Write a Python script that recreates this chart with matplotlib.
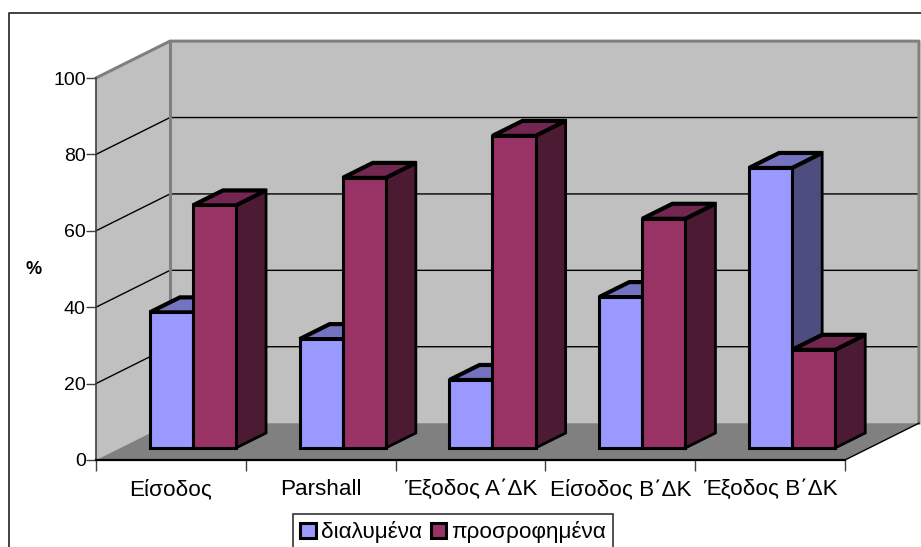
import matplotlib.pyplot as plt
import numpy as np
from matplotlib.lines import Line2D
from matplotlib.patches import Patch, Polygon

plt.rcParams['font.family'] = ['Liberation Sans', 'DejaVu Sans']

categories = ['Είσοδος', 'Parshall', 'Έξοδος Α΄ΔΚ', 'Είσοδος Β΄ΔΚ', 'Έξοδος Β΄ΔΚ']
dialymena = [35.5, 28.5, 17.8, 39.5, 73.3]
prosrofimena = [63.5, 70.7, 81.7, 60, 25.7]
series_names = ['διαλυμένα', 'προσροφημένα']
y_ticks = [0, 20, 40, 60, 80, 100]

# face colours: front, side, top
blue = ('#9999FF', '#4D4D80', '#7373BF')
maroon = ('#993366', '#4D1A33', '#732650')

# oblique projection of the depth axis, in data units
DX = 0.494
DY = 9.65
Z0, Z1 = 0.326, 0.733
BAR_W = 0.2875


def proj(x, y, z):
    return (x + z * DX, y + z * DY)


def face(ax, pts, color, zorder, lw=0, ec='black', joinstyle='miter'):
    ax.add_patch(Polygon(pts, closed=True, facecolor=color, edgecolor=ec if lw else 'none',
                         linewidth=lw, clip_on=False, zorder=zorder, joinstyle=joinstyle))


def bar3d(ax, x0, h, colors, zorder):
    x1 = x0 + BAR_W
    side = [proj(x1, 0, Z0), proj(x1, 0, Z1), proj(x1, h, Z1), proj(x1, h, Z0)]
    top = [proj(x0, h, Z0), proj(x1, h, Z0), proj(x1, h, Z1), proj(x0, h, Z1)]
    front = [proj(x0, 0, Z0), proj(x1, 0, Z0), proj(x1, h, Z0), proj(x0, h, Z0)]
    face(ax, side, colors[1], zorder, lw=2)
    face(ax, top, colors[2], zorder + 0.1, lw=3)
    face(ax, front, colors[0], zorder + 0.2, lw=2.2)


fig = plt.figure(figsize=(9.21, 5.47), dpi=100)
ax = fig.add_axes([96 / 921, 87 / 547, 749 / 921, 382 / 547])
ax.set_facecolor('none')
ax.set_xlim(0, 5)
ax.set_ylim(0, 100)

# chart area border, running off the canvas on the right and at the bottom
fig.add_artist(Line2D([1.01, 9 / 921, 9 / 921], [534 / 547, 534 / 547, -0.01],
                      color='#333333', lw=1.3))

# walls and floor
n = len(categories)
face(ax, [proj(0, 0, 0), proj(0, 0, 1), proj(0, 100, 1), proj(0, 100, 0)], '#C0C0C0', 1)
face(ax, [proj(0, 0, 1), proj(n, 0, 1), proj(n, 100, 1), proj(0, 100, 1)], '#C0C0C0', 1)
face(ax, [proj(0, 0, 0), proj(n, 0, 0), proj(n, 0, 1), proj(0, 0, 1)], '#808080', 1.5)

# gridlines wrap from the left wall onto the back wall
for v in y_ticks[1:-1]:
    pts = np.array([proj(0, v, 0), proj(0, v, 1), proj(n, v, 1)])
    ax.plot(pts[:, 0], pts[:, 1], color='black', lw=1, clip_on=False, zorder=2)

# grey wall edges
edge = np.array([proj(0, 100, 0), proj(0, 100, 1), proj(n, 100, 1), proj(n, 0, 1)])
ax.plot(edge[:, 0], edge[:, 1], color='#808080', lw=2.2, clip_on=False, zorder=2.2)
edge = np.array([proj(0, 0, 1), proj(0, 100, 1)])
ax.plot(edge[:, 0], edge[:, 1], color='#808080', lw=2.2, clip_on=False, zorder=2.2)
edge = np.array([proj(n, 0, 0), proj(n, 0, 1)])
ax.plot(edge[:, 0], edge[:, 1], color='black', lw=1, clip_on=False, zorder=2.2)

for i in range(n):
    bar3d(ax, i + 0.198, dialymena[i], blue, 3 + i)
    bar3d(ax, i + 0.198 + BAR_W, prosrofimena[i], maroon, 3.5 + i)

for s in ['top', 'right']:
    ax.spines[s].set_visible(False)
ax.spines['left'].set_color('#404040')
ax.spines['left'].set_linewidth(1.2)
ax.spines['bottom'].set_linewidth(1.6)
ax.spines['left'].set_zorder(2.5)
ax.spines['bottom'].set_zorder(2.5)

ax.set_yticks(y_ticks)
ax.tick_params(axis='y', length=7, width=1, labelsize=14, pad=0.3, color='#404040')
ax.set_xticks(np.arange(n + 1))
ax.set_xticklabels([])
ax.tick_params(axis='x', which='major', length=8, width=1, color='#404040')
ax.set_xticks(np.arange(n) + 0.5, minor=True)
ax.set_xticklabels(categories, minor=True, fontsize=16.2, va='baseline')
ax.tick_params(axis='x', which='minor', length=0, pad=25.2)

ax.set_ylabel('%', rotation=0, fontweight='bold', fontsize=13)
ax.yaxis.set_label_coords(-62 / 749, 182 / 382)

handles = [Patch(facecolor=blue[0], edgecolor='black', linewidth=2.2),
           Patch(facecolor=maroon[0], edgecolor='black', linewidth=2.2)]
leg = fig.legend(handles, series_names, ncol=2, loc='upper left',
                 bbox_to_anchor=(293 / 921, 33 / 547), bbox_transform=fig.transFigure,
                 fontsize=16.2, frameon=True, fancybox=False, edgecolor='#333333',
                 framealpha=1, handlelength=0.68, handleheight=0.68, handletextpad=0.22,
                 columnspacing=0.4, borderpad=0.33, borderaxespad=0)
leg.get_frame().set_linewidth(1.2)

fig.savefig('out.png', dpi=100)
